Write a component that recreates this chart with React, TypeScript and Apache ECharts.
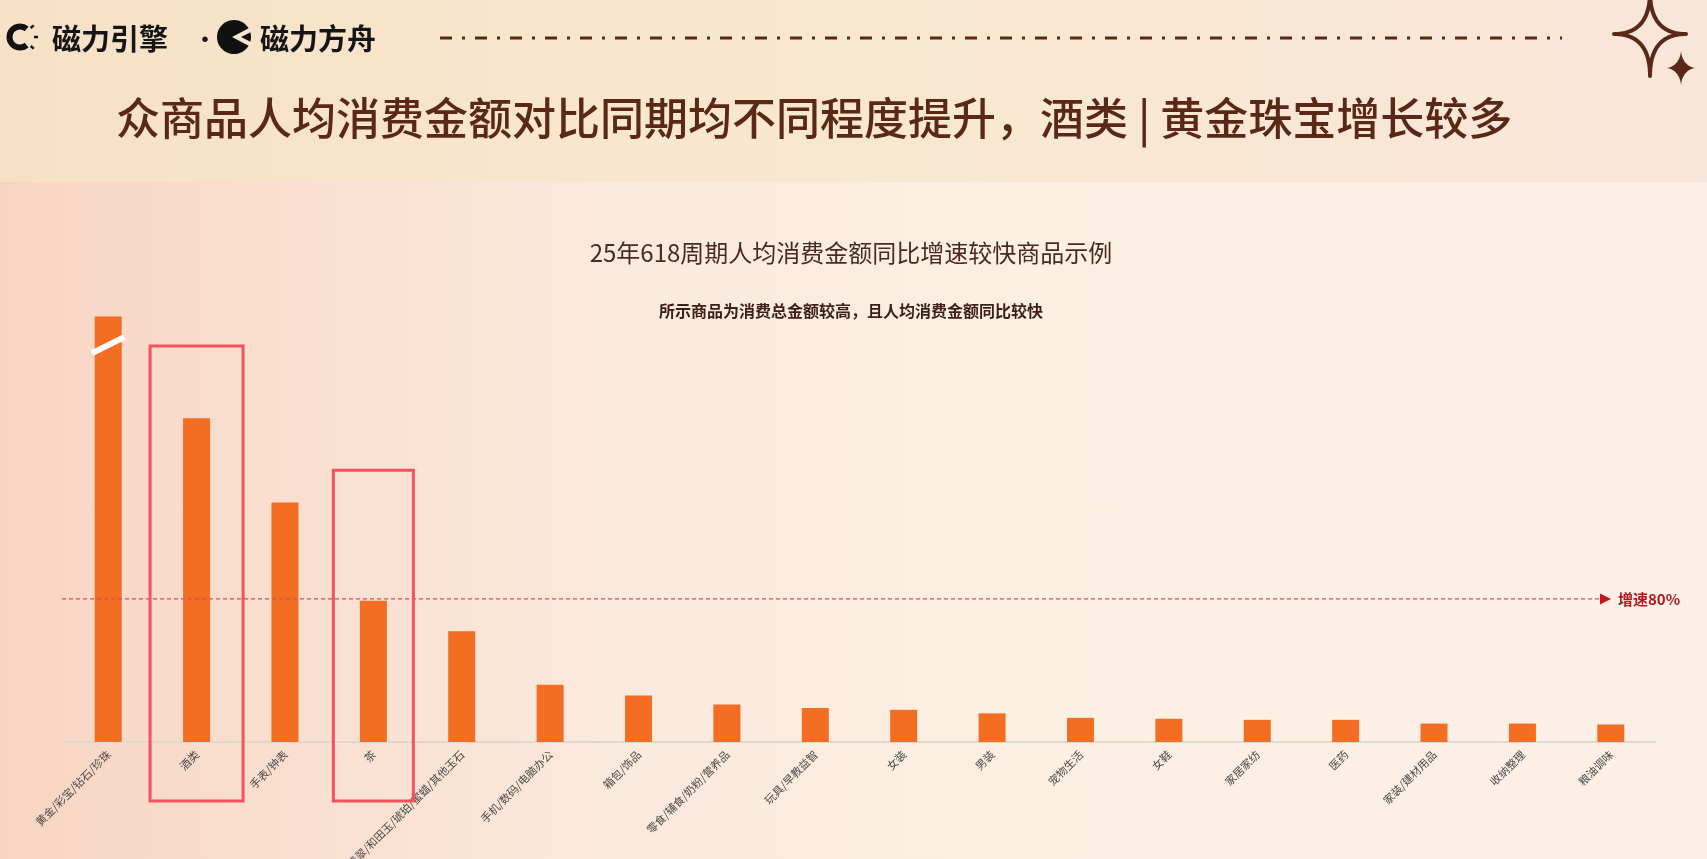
import React, { useEffect, useRef } from "react";
import * as echarts from "echarts";

// ---------------- data ----------------
const categories = [
  "黄金/彩宝/钻石/珍珠",
  "酒类",
  "手表/钟表",
  "茶",
  "翡翠/和田玉/琥珀/蜜蜡/其他玉石",
  "手机/数码/电脑办公",
  "箱包/饰品",
  "零食/辅食/奶粉/营养品",
  "玩具/早教益智",
  "女装",
  "男装",
  "宠物生活",
  "女鞋",
  "家居家纺",
  "医药",
  "家装/建材用品",
  "收纳整理",
  "粮油调味",
];
// per-capita spend YoY growth (%); first bar is shown truncated (broken)
const growthValues = [238, 181, 134, 79, 62, 32, 26, 21, 19, 18, 16, 13.5, 13, 12.4, 12.4, 10.3, 10.3, 9.8];
const thresholdValue = 80;
const thresholdLabel = "增速80%";
const highlighted = ["酒类", "茶"];
const brokenBar = "黄金/彩宝/钻石/珍珠";

const mainTitle = "众商品人均消费金额对比同期均不同程度提升，酒类 | 黄金珠宝增长较多";
const chartTitle = "25年618周期人均消费金额同比增速较快商品示例";
const chartSubtitle = "所示商品为消费总金额较高，且人均消费金额同比较快";
const brandA = "磁力引擎";
const brandB = "磁力方舟";

const FONT = '"Noto Sans CJK SC", "Noto Sans", sans-serif';
const BROWN = "#5a2816";

function starPoints(cx: number, cy: number, rx: number, ry: number, p = 3, n = 120) {
  const pts: number[][] = [];
  for (let k = 0; k < n; k++) {
    const t = (k / n) * Math.PI * 2;
    const c = Math.cos(t);
    const s = Math.sin(t);
    pts.push([cx + rx * Math.sign(c) * Math.abs(c) ** p, cy + ry * Math.sign(s) * Math.abs(s) ** p]);
  }
  return pts;
}

export default function App() {
  const ref = useRef<HTMLDivElement>(null);

  useEffect(() => {
    const chart = echarts.init(ref.current!, null, { renderer: "svg" });
    chart.setOption({
      animation: false,
      textStyle: { fontFamily: FONT },
      grid: { left: 64, right: 52, top: 295, bottom: 117, containLabel: false, outerBoundsMode: "none" },
      xAxis: {
        type: "category",
        data: categories,
        axisTick: { show: false },
        axisLine: { lineStyle: { color: "#dcd8d4", width: 2 } },
        axisLabel: {
          rotate: 45,
          interval: 0,
          fontSize: 11,
          color: "#4a4a4a",
          margin: 10,
          fontFamily: FONT,
        },
      },
      yAxis: { type: "value", min: 0, max: 250, show: false, splitLine: { show: false } },
      series: [
        {
          type: "bar",
          data: growthValues,
          barWidth: 27,
          itemStyle: { color: "#F36D22" },
          z: 5,
        },
      ],
    });

    const px = (i: number, v: number) => chart.convertToPixel({ seriesIndex: 0 }, [i, v]) as number[];
    const base = px(0, 0)[1];

    const elements: any[] = [];

    // background
    elements.push({
      type: "rect",
      z: -100,
      shape: { x: 0, y: 0, width: 1707, height: 859 },
      style: {
        fill: new echarts.graphic.LinearGradient(0, 0, 1, 0, [
          { offset: 0, color: "#f8d5c3" },
          { offset: 0.35, color: "#fbe9dc" },
          { offset: 0.6, color: "#fcf0e3" },
          { offset: 1, color: "#fcefe7" },
        ]),
      },
    });
    elements.push({
      type: "rect",
      z: -99,
      shape: { x: 0, y: 0, width: 1707, height: 182 },
      style: {
        fill: new echarts.graphic.LinearGradient(0, 0, 1, 0, [
          { offset: 0, color: "#f6e1c7" },
          { offset: 0.5, color: "#f9e8d0" },
          { offset: 1, color: "#f9e6da" },
        ]),
      },
    });

    // brand logos
    elements.push({
      type: "arc",
      z: 10,
      shape: { cx: 20, cy: 37, r: 10.5, startAngle: Math.PI * 0.28, endAngle: Math.PI * 1.72, clockwise: true },
      style: { stroke: "#111", lineWidth: 6, fill: "none" },
    });
    [-0.7, 0, 0.7].forEach((a) => {
      elements.push({
        type: "line",
        z: 10,
        shape: {
          x1: 20 + 14 * Math.cos(a),
          y1: 37 + 14 * Math.sin(a),
          x2: 20 + 18 * Math.cos(a),
          y2: 37 + 18 * Math.sin(a),
        },
        style: { stroke: "#111", lineWidth: 2.5 },
      });
    });
    elements.push({
      type: "text",
      z: 10,
      x: 52,
      y: 37,
      style: { text: brandA, fontSize: 29, fontWeight: "bold", fontFamily: FONT, fill: "#151515", textVerticalAlign: "middle" },
    });
    elements.push({
      type: "text",
      z: 10,
      x: 205,
      y: 37,
      style: { text: "·", fontSize: 26, fontFamily: FONT, fill: "#151515", textAlign: "center", textVerticalAlign: "middle" },
    });
    elements.push({
      type: "circle",
      z: 10,
      shape: { cx: 234, cy: 37, r: 17 },
      style: { fill: "#111" },
    });
    elements.push({
      type: "polygon",
      z: 11,
      shape: { points: [[232, 37], [253, 26], [253, 31], [241, 37], [253, 43], [253, 48]] },
      style: { fill: "#f8e6cf" },
    });
    elements.push({
      type: "text",
      z: 10,
      x: 260,
      y: 37,
      style: { text: brandB, fontSize: 29, fontWeight: "bold", fontFamily: FONT, fill: "#151515", textVerticalAlign: "middle" },
    });

    // dash-dot rule
    elements.push({
      type: "line",
      z: 10,
      shape: { x1: 440, y1: 38, x2: 1562, y2: 38 },
      style: { stroke: BROWN, lineWidth: 3, lineDash: [12, 10, 3, 10] },
    });

    // sparkles
    elements.push({
      type: "polygon",
      z: 10,
      shape: { points: starPoints(1650, 34, 36, 42, 4) },
      style: { fill: "none", stroke: BROWN, lineWidth: 4, lineJoin: "round" },
    });
    elements.push({
      type: "polygon",
      z: 10,
      shape: { points: starPoints(1681, 68, 15, 18, 3.5) },
      style: { fill: BROWN },
    });

    // titles
    elements.push({
      type: "text",
      z: 10,
      x: 116,
      y: 116,
      style: { text: mainTitle, fontSize: 44, fontWeight: 500, fontFamily: FONT, fill: BROWN, textVerticalAlign: "middle" },
    });
    elements.push({
      type: "text",
      z: 10,
      x: 851,
      y: 251,
      style: { text: chartTitle, fontSize: 24, fontFamily: FONT, fill: "#4a2a20", textAlign: "center", textVerticalAlign: "middle" },
    });
    elements.push({
      type: "text",
      z: 10,
      x: 851,
      y: 310,
      style: { text: chartSubtitle, fontSize: 16, fontWeight: "bold", fontFamily: FONT, fill: "#3d1f14", textAlign: "center", textVerticalAlign: "middle" },
    });

    // highlight boxes
    const boxSpecs: Record<string, { half: number; top: number }> = {
      酒类: { half: 46.5, top: 221.5 },
      茶: { half: 40, top: 152 },
    };
    highlighted.forEach((name) => {
      const i = categories.indexOf(name);
      const spec = boxSpecs[name];
      const [cx] = px(i, 0);
      const yTop = px(i, spec.top)[1];
      elements.push({
        type: "rect",
        z: 50,
        shape: { x: cx - spec.half, y: yTop, width: spec.half * 2, height: base + 59 - yTop },
        style: { fill: "none", stroke: "#F4525E", lineWidth: 3 },
      });
    });

    // break stripe on truncated bar
    {
      const i = categories.indexOf(brokenBar);
      const [cx, cy] = px(i, 222);
      elements.push({
        type: "line",
        z: 50,
        shape: { x1: cx - 16, y1: cy + 8, x2: cx + 16, y2: cy - 8 },
        style: { stroke: "#ffffff", lineWidth: 6 },
      });
    }

    // threshold line
    {
      const y = px(0, thresholdValue)[1];
      elements.push({
        type: "line",
        z: 40,
        shape: { x1: 62, y1: y, x2: 1600, y2: y },
        style: { stroke: "#d2505f", lineWidth: 1.2, lineDash: [4, 3] },
      });
      elements.push({
        type: "polygon",
        z: 40,
        shape: { points: [[1600, y - 5.5], [1611, y], [1600, y + 5.5]] },
        style: { fill: "#c8141e" },
      });
      elements.push({
        type: "text",
        z: 40,
        x: 1618,
        y: y,
        style: { text: thresholdLabel, fontSize: 15, fontWeight: "bold", fontFamily: FONT, fill: "#b3181f", textVerticalAlign: "middle" },
      });
    }

    chart.setOption({ graphic: { elements } });

    return () => chart.dispose();
  }, []);

  return (
    <div style={{ position: "fixed", left: 0, top: 0, width: 1707, height: 859, overflow: "hidden" }}>
      <div ref={ref} style={{ width: 1707, height: 859 }} />
    </div>
  );
}
